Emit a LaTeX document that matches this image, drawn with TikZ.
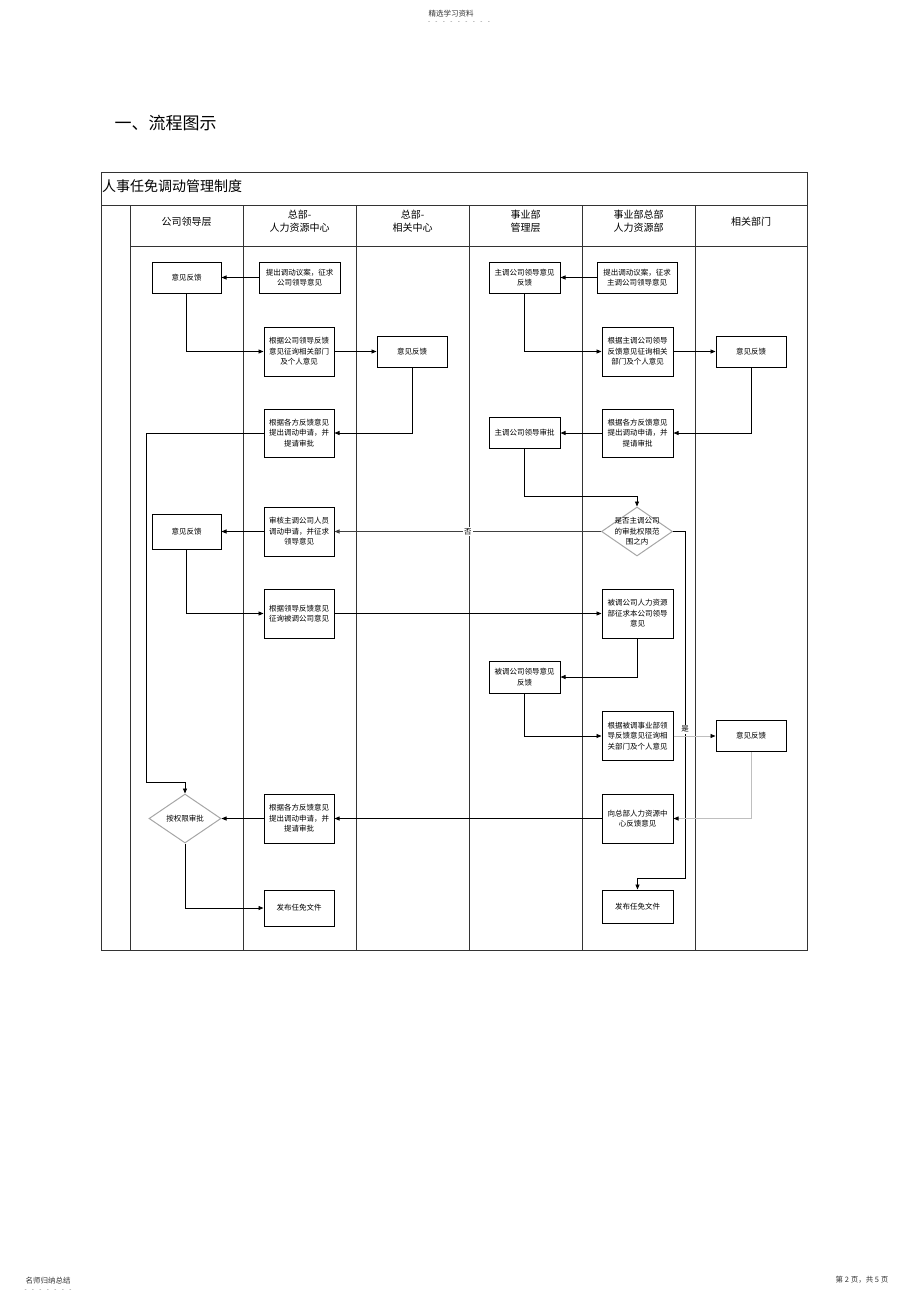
\documentclass[tikz,border=0pt]{standalone}
\usepackage{fontspec}
\setmainfont{Noto Sans CJK SC}
\usepackage{tikz}
\usetikzlibrary{arrows.meta, shapes.geometric, calc}

\begin{document}
\begin{tikzpicture}[x=1pt, y=-1pt,
    proc/.style={draw, line width=1pt, inner sep=0pt, align=center,
      minimum width=70pt, minimum height=49pt, font=\fontsize{7.5}{10.5}\selectfont},
    flat/.style={minimum height=31pt},
    dec/.style={draw=black!35, line width=1pt, shape=diamond, inner sep=0pt,
      minimum width=71pt, minimum height=49pt},
    dtext/.style={align=center, inner sep=0pt, font=\fontsize{7.5}{10.5}\selectfont},
    lbl/.style={fill=white, inner sep=1pt, font=\fontsize{7.5}{9}\selectfont},
    head/.style={align=center, font=\fontsize{10}{13.5}\selectfont},
    arr/.style={line width=0.8pt, -{Triangle[length=5pt,width=4pt]}},
    grayarr/.style={draw=black!25, line width=0.8pt, -{Triangle[length=5pt,width=4pt,black]}}]
    \useasboundingbox (0,0) rectangle (920,1304);
    % page texts
    \node[font=\fontsize{7.5}{9}\selectfont, text=black!80] (pagehead) at (451,14) {精选学习资料};
    \node[font=\fontsize{6}{7}\selectfont, text=black!60] (pagedots) at (459,23) {\makebox[62pt][s]{- - - - - - - - -}};
    \node[font=\fontsize{7.5}{9}\selectfont, text=black!80] (pagefoot) at (48,1281) {名师归纳总结};
    \node[font=\fontsize{6}{7}\selectfont, text=black!60] (footdots) at (48,1291) {\makebox[47pt][s]{- - - - - - -}};
    \node[font=\fontsize{7.5}{9}\selectfont, text=black!80] (pageno) at (862,1280) {第 2 页，共 5 页};
    \node[font=\fontsize{17}{20}\selectfont] (title) at (165.5,123) {一、流程图示};
    % table
    \draw[line width=0.9pt, black!80] (101,172) rectangle (807,950);
    \draw[line width=0.9pt, black!80] (101,205) -- (807,205);
    \draw[line width=0.9pt, black!80] (130,246) -- (807,246);
    \foreach \x in {130,243,356,469,582,695}
      \draw[line width=0.9pt, black!80] (\x,205) -- (\x,950);
    \node[anchor=west, inner sep=0pt, font=\fontsize{14}{16}\selectfont] (tabtitle) at (102,186) {人事任免调动管理制度};
    \node[head] (h1) at (186.5,222) {公司领导层};
    \node[head] (h2) at (299.5,221) {总部-\\人力资源中心};
    \node[head] (h3) at (412.5,221) {总部-\\相关中心};
    \node[head] (h4) at (525.5,221) {事业部\\管理层};
    \node[head] (h5) at (638.5,221) {事业部总部\\人力资源部};
    \node[head] (h6) at (751,222) {相关部门};
    % boxes
    \node[proc, flat, minimum width=69pt] (11) at (186.5,277.5) {意见反馈};
    \node[proc, flat, minimum width=81pt] (12) at (299.5,277.5) {提出调动议案，征求\\公司领导意见};
    \node[proc, flat, minimum width=71pt] (14) at (524.5,277.5) {主调公司领导意见\\反馈};
    \node[proc, flat, minimum width=80pt] (15) at (637,277.5) {提出调动议案，征求\\主调公司领导意见};
    \node[proc] (22) at (299,351.5) {根据公司领导反馈\\意见征询相关部门\\及个人意见};
    \node[proc, flat] (23) at (412,351.5) {意见反馈};
    \node[proc, minimum width=71pt] (25) at (637.5,351.5) {根据主调公司领导\\反馈意见征询相关\\部门及个人意见};
    \node[proc, flat] (26) at (751,351.5) {意见反馈};
    \node[proc, minimum height=48pt] (32) at (299,433) {根据各方反馈意见\\提出调动申请，并\\提请审批};
    \node[proc, flat, minimum width=71pt] (34) at (524.5,433) {主调公司领导审批};
    \node[proc, minimum width=71pt, minimum height=48pt] (35) at (637.5,433) {根据各方反馈意见\\提出调动申请，并\\提请审批};
    \node[proc, minimum width=69pt, minimum height=35pt] (41) at (186.5,531.5) {意见反馈};
    \node[proc] (42) at (299,531.5) {审核主调公司人员\\调动申请，并征求\\领导意见};
    \node[dec, label={[dtext]center:{是否主调公司\\的审批权限范\\围之内}}] (45) at (637,531.5) {};
    \node[proc] (52) at (299,613.5) {根据领导反馈意见\\征询被调公司意见};
    \node[proc, minimum width=71pt] (55) at (637.5,613.5) {被调公司人力资源\\部征求本公司领导\\意见};
    \node[proc, minimum width=71pt, minimum height=32pt] (64) at (524.5,677) {被调公司领导意见\\反馈};
    \node[proc, minimum width=71pt] (75) at (637.5,736) {根据被调事业部领\\导反馈意见征询相\\关部门及个人意见};
    \node[proc, flat] (76) at (751,736) {意见反馈};
    \node[dec, minimum width=72pt, label={[dtext]center:按权限审批}] (81) at (185,818.5) {};
    \node[proc] (82) at (299,818.5) {根据各方反馈意见\\提出调动申请，并\\提请审批};
    \node[proc, minimum width=71pt] (85) at (637.5,818.5) {向总部人力资源中\\心反馈意见};
    \node[proc, minimum height=36pt] (92) at (299,908) {发布任免文件};
    \node[proc, minimum width=71pt, minimum height=33pt] (95) at (637.5,906.5) {发布任免文件};
    \coordinate (bend1) at (146,782);
    % left side
    \draw[arr] (12) -- (11);
    \draw[arr] (11) |- (22);
    \draw[arr] (22) -- (23);
    \draw[arr] (23) |- (32);
    \draw[arr] (32) -| (bend1) -| (81);
    \draw[arr] (42) -- (41);
    \draw[arr] (41) |- (52);
    \draw[arr] (82) -- (81);
    \draw[arr] (81) |- (92);
    % right side
    \draw[arr] (15) -- (14);
    \draw[arr] (14) |- (25);
    \draw[arr] (25) -- (26);
    \draw[arr] (26) |- (35);
    \draw[arr] (35) -- (34);
    \draw[arr] (34.south) -- ++(0,47) -| (45);
    \draw[arr, black!75] (45) -- node[lbl, text=black]{否} (42);
    \draw[arr] (45.east) -- ++(12,0) -- node[lbl, pos=0.57]{是} ++(0,347) -| (95);
    \draw[arr] (52) -- (55);
    \draw[arr] (55) |- (64);
    \draw[arr] (64) |- (75);
    \draw[grayarr] (75) -- (76);
    \draw[grayarr] (76) |- (85);
    \draw[arr] (85) -- (82);
  \end{tikzpicture}
\end{document}
